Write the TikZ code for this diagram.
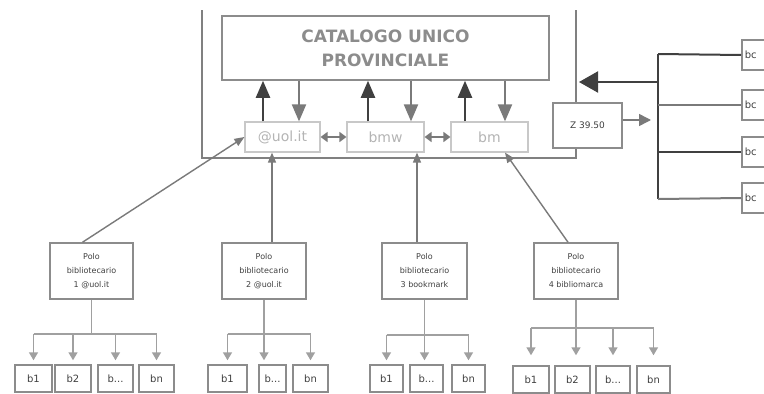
\documentclass[tikz,border=0pt]{standalone}
\usepackage{fontspec}
\setmainfont{DejaVu Sans}
\usetikzlibrary{arrows.meta}
\definecolor{framec}{HTML}{808080}
\definecolor{boxc}{HTML}{8C8C8C}
\definecolor{lightc}{HTML}{C8C8C8}
\definecolor{lighttext}{HTML}{B4B4B4}
\definecolor{darkc}{HTML}{404040}
\definecolor{midc}{HTML}{7A7A7A}
\definecolor{branchc}{HTML}{A0A0A0}
\definecolor{textc}{HTML}{404040}
\begin{document}
\begin{tikzpicture}[x=1pt,y=-1pt,
  box/.style={draw=boxc, line width=1.5pt, inner sep=0pt},
  catbox/.style={box, text=boxc, align=center, font=\bfseries\fontsize{17}{24}\selectfont},
  smallbox/.style={draw=lightc, line width=1.2pt, inner sep=0pt, minimum height=30pt, text=lighttext, font=\fontsize{14}{16}\selectfont},
  polo/.style={box, minimum height=56pt, align=center, text=textc, font=\fontsize{8}{14}\selectfont},
  leaf/.style={box, minimum height=27pt, text=textc, font=\fontsize{10}{12}\selectfont},
  zbox/.style={box, minimum width=69pt, minimum height=45pt, text=textc, font=\fontsize{9}{11}\selectfont},
  bcbox/.style={box, minimum width=50pt, minimum height=30pt, text=textc, font=\fontsize{10}{12}\selectfont, anchor=west, align=left, text width=44pt},
  frame/.style={draw=framec, line width=2pt},
  uparr/.style={draw=darkc, line width=2.2pt, -{Triangle[width=14pt,length=17pt]}},
  downarr/.style={draw=midc, line width=2pt, -{Triangle[width=14pt,length=17pt]}},
  dbl/.style={draw=midc, line width=1.5pt, {Triangle[width=10pt,length=7pt]}-{Triangle[width=10pt,length=7pt]}},
  conn/.style={draw=midc, line width=1.4pt, -{Triangle[width=8pt,length=10pt]}},
  bline/.style={draw=branchc, line width=1.5pt},
  barr/.style={draw=branchc, line width=1.5pt, -{Triangle[width=9pt,length=8pt]}, shorten >=4pt},
  spine/.style={draw=darkc, line width=2pt},
  spineg/.style={draw=midc, line width=2pt},
  bigarr/.style={draw=darkc, line width=2pt, -{Triangle[width=21pt,length=19pt]}},
  zarr/.style={draw=midc, line width=1.5pt, -{Triangle[width=12pt,length=12pt]}}
]
\clip (0,0) rectangle (764,394);
\fill[white] (0,0) rectangle (764,394);

% main catalogue
\node[catbox, minimum width=327pt, minimum height=64pt] (cat) at (385.5,48) {CATALOGO UNICO\\PROVINCIALE};
\node[smallbox, minimum width=75pt] (uol) at (282.5,137) {@uol.it};
\node[smallbox, minimum width=77pt] (bmw) at (385.5,137) {bmw};
\node[smallbox, minimum width=77pt] (bm) at (489.5,137) {bm};
\node[zbox] (Z) at (587.5,125.5) {Z 39.50};

% frame
\coordinate (ftl) at (202,10);
\coordinate (fbr) at (576,158);
\coordinate (ftr) at (576,10);
\draw[frame] (ftl) -- (ftl |- fbr) -- (fbr) -- (fbr |- Z.south);
\draw[frame] (ftr) -- (ftr |- Z.north);

% up/down arrows
\coordinate (u1) at ([xshift=-19.5pt]uol.north);
\coordinate (d1) at ([xshift=16.5pt]uol.north);
\coordinate (u2) at ([xshift=-17.5pt]bmw.north);
\coordinate (d2) at ([xshift=25.5pt]bmw.north);
\coordinate (u3) at ([xshift=-24.5pt]bm.north);
\coordinate (d3) at ([xshift=15.5pt]bm.north);
\draw[uparr] (u1) -- (u1 |- cat.south);
\draw[downarr] (d1 |- cat.south) -- (d1);
\draw[uparr] (u2) -- (u2 |- cat.south);
\draw[downarr] (d2 |- cat.south) -- (d2);
\draw[uparr] (u3) -- (u3 |- cat.south);
\draw[downarr] (d3 |- cat.south) -- (d3);
\draw[dbl] (uol.east) -- (bmw.west);
\draw[dbl] (bmw.east) -- (bm.west);

% right side
\coordinate (sp1) at (658,54);
\coordinate (sp4) at (658,199);
\coordinate (spa) at (658,82);
\coordinate (arrend) at (579,82);
\node[bcbox] (bc1) at (741,55) {bc};
\node[bcbox] (bc2) at (741,105) {bc};
\node[bcbox] (bc3) at (741,152) {bc};
\node[bcbox] (bc4) at (741,198) {bc};
\draw[spine] (sp1) -- (sp4);
\draw[spine] (sp1) -- (bc1.west);
\draw[spineg] (sp1 |- bc2.west) -- (bc2.west);
\draw[spine] (sp1 |- bc3.west) -- (bc3.west);
\draw[spineg] (sp4) -- (bc4.west);
\draw[bigarr] (spa) -- (arrend);
\coordinate (zout) at (651,120);
\draw[zarr] (Z.east |- zout) -- (zout);

% polo boxes
\node[polo, minimum width=83pt] (P1) at (91.5,271) {Polo\\bibliotecario\\1 @uol.it};
\node[polo, minimum width=84pt] (P2) at (264,271) {Polo\\bibliotecario\\2 @uol.it};
\node[polo, minimum width=85pt] (P3) at (424.5,271) {Polo\\bibliotecario\\3 bookmark};
\node[polo, minimum width=84pt] (P4) at (576,271) {Polo\\bibliotecario\\4 bibliomarca};

\draw[conn] ([xshift=-9pt]P1.north) -- (uol.west);
\draw[conn] ([xshift=8pt]P2.north) -- ([xshift=-10.5pt]uol.south);
\draw[conn] ([xshift=-7.5pt]P3.north) -- ([xshift=31.5pt]bmw.south);
\draw[conn] ([xshift=-8pt]P4.north) -- ([xshift=15.5pt]bm.south);

% leaves
\node[leaf, minimum width=37pt] (l1a) at (33.5,378.5) {b1};
\node[leaf, minimum width=36pt] (l1b) at (73,378.5) {b2};
\node[leaf, minimum width=35pt] (l1c) at (115.5,378.5) {b...};
\node[leaf, minimum width=35pt] (l1d) at (156.5,378.5) {bn};
\node[leaf, minimum width=39pt] (l2a) at (227.5,378.5) {b1};
\node[leaf, minimum width=27pt] (l2b) at (272.5,378.5) {b...};
\node[leaf, minimum width=35pt] (l2c) at (310.5,378.5) {bn};
\node[leaf, minimum width=33pt] (l3a) at (386.5,378.5) {b1};
\node[leaf, minimum width=33pt] (l3b) at (426.5,378.5) {b...};
\node[leaf, minimum width=33pt] (l3c) at (468.5,378.5) {bn};
\node[leaf, minimum width=36pt] (l4a) at (531,379.5) {b1};
\node[leaf, minimum width=35pt] (l4b) at (572.5,379.5) {b2};
\node[leaf, minimum width=34pt] (l4c) at (613,379.5) {b...};
\node[leaf, minimum width=33pt] (l4d) at (653.5,379.5) {bn};

% branches polo 1
\path (P1.south) ++(0,34) coordinate (h1);
\draw[bline] (P1.south) -- (h1);
\draw[bline] (h1 -| l1a) -- (h1 -| l1d);
\foreach \l in {l1a,l1b,l1c,l1d} \draw[barr] (h1 -| \l) -- (\l.north);
% polo 2
\path (P2.south) ++(0,34) coordinate (h2);
\draw[bline] (h2 -| l2a) -- (h2 -| l2c);
\draw[barr] (P2.south) -- (P2.south |- l2b.north);
\foreach \l in {l2a,l2c} \draw[barr] (h2 -| \l) -- (\l.north);
% polo 3
\path (P3.south) ++(0,35) coordinate (h3);
\draw[bline] (h3 -| l3a) -- (h3 -| l3c);
\draw[barr] (P3.south) -- (P3.south |- l3b.north);
\foreach \l in {l3a,l3c} \draw[barr] (h3 -| \l) -- (\l.north);
% polo 4
\path (P4.south) ++(0,28) coordinate (h4);
\draw[bline] (h4 -| l4a) -- (h4 -| l4d);
\draw[barr, shorten >=10pt] (P4.south) -- (P4.south |- l4b.north);
\foreach \l in {l4a,l4c,l4d} \draw[barr, shorten >=10pt] (h4 -| \l) -- (\l.north);
\end{tikzpicture}
\end{document}
